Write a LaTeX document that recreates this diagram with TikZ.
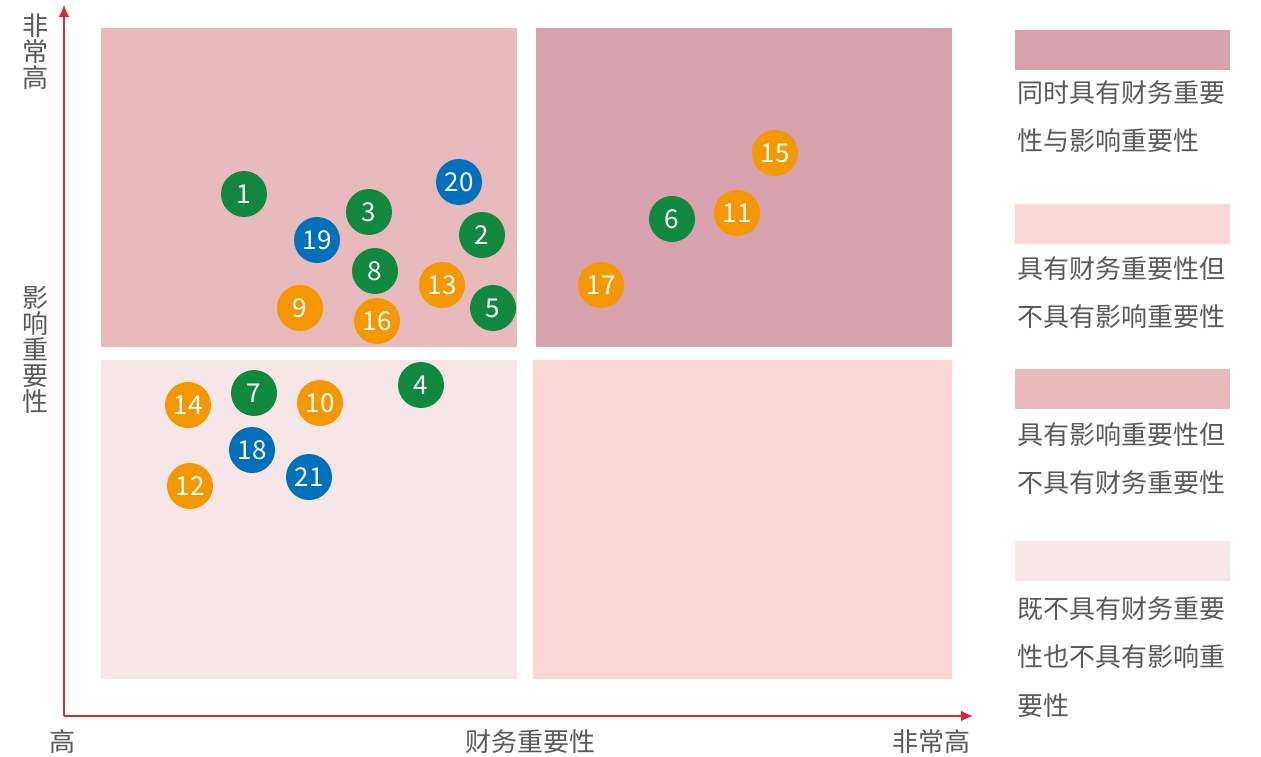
\documentclass[tikz,border=0pt]{standalone}
\usepackage{fontspec}
\setmainfont{Noto Sans CJK SC}
\usetikzlibrary{arrows.meta}
\definecolor{axisred}{HTML}{D42A35}
\definecolor{textgray}{HTML}{595959}
\definecolor{bothpink}{HTML}{D7A2AD}
\definecolor{finpink}{HTML}{FBD6D6}
\definecolor{imppink}{HTML}{E8BABC}
\definecolor{nonepink}{HTML}{F7E6E7}
\definecolor{dotgreen}{HTML}{10893E}
\definecolor{dotblue}{HTML}{0070BA}
\definecolor{dotorange}{HTML}{F39800}

\begin{document}
\begin{tikzpicture}[x=1pt,y=-1pt,
  dot/.style={circle,minimum size=46pt,inner sep=0pt,text=white,font=\fontsize{26}{26}\selectfont},
  axislabel/.style={text=textgray,inner sep=0pt,align=center,font=\fontsize{26}{26}\selectfont},
  swatch/.style={minimum width=215pt,minimum height=40pt,inner sep=0pt,anchor=north west},
  legendtext/.style={text=textgray,inner sep=0pt,align=left,anchor=north west,font=\fontsize{26}{48.5}\selectfont}]
\useasboundingbox (0,0) rectangle (1261,757);

% quadrants
\fill [imppink] (101,28) rectangle (517,347);
\fill [bothpink] (536,28) rectangle (952,347);
\fill [nonepink] (101,360) rectangle (517,679);
\fill [finpink] (533,360) rectangle (952,679);

% axes
\coordinate (origin) at (64,716);
\coordinate (ytop) at (64,5);
\coordinate (xend) at (973,716);
\draw [axisred,line width=1.6pt,-{Latex[length=12pt,width=11pt]}] (origin) -- (ytop);
\draw [axisred,line width=1.6pt,-{Latex[length=12pt,width=11pt]}] (origin) -- (xend);

\node (yhigh) [axislabel] at (35,52) {非\\常\\高};
\node (ytitle) [axislabel] at (35,350) {影\\响\\重\\要\\性};
\node (xlow) [axislabel] at (62,742) {高};
\node (xtitle) [axislabel] at (530,742) {财务重要性};
\node (xhigh) [axislabel] at (931,742) {非常高};

% topics
\foreach \n/\x/\y/\c in {1/244/194/dotgreen, 20/459/182/dotblue, 3/369/212/dotgreen,
  19/317/240/dotblue, 2/482/235/dotgreen, 8/375/271/dotgreen, 13/442/285/dotorange,
  9/300/308/dotorange, 16/377/321/dotorange, 5/493/308/dotgreen,
  15/775/153/dotorange, 11/737/213/dotorange, 6/672/219/dotgreen, 17/601/285/dotorange,
  14/188/405/dotorange, 7/254/393/dotgreen, 10/320/403/dotorange, 4/421/385/dotgreen,
  18/252/450/dotblue, 12/190/486/dotorange, 21/309/477/dotblue}
  \node (t\n) [dot,fill=\c] at (\x,\y) {\n};

% legend
\node (sw1) [swatch,fill=bothpink] at (1015,30) {};
\node (lg1) [legendtext] at (1017,80) {同时具有财务重要\\性与影响重要性};
\node (sw2) [swatch,fill=finpink] at (1015,204) {};
\node (lg2) [legendtext] at (1017,256) {具有财务重要性但\\不具有影响重要性};
\node (sw3) [swatch,fill=imppink] at (1015,369) {};
\node (lg3) [legendtext] at (1017,422) {具有影响重要性但\\不具有财务重要性};
\node (sw4) [swatch,fill=nonepink] at (1015,541) {};
\node (lg4) [legendtext] at (1017,596) {既不具有财务重要\\性也不具有影响重\\要性};
\end{tikzpicture}
\end{document}
